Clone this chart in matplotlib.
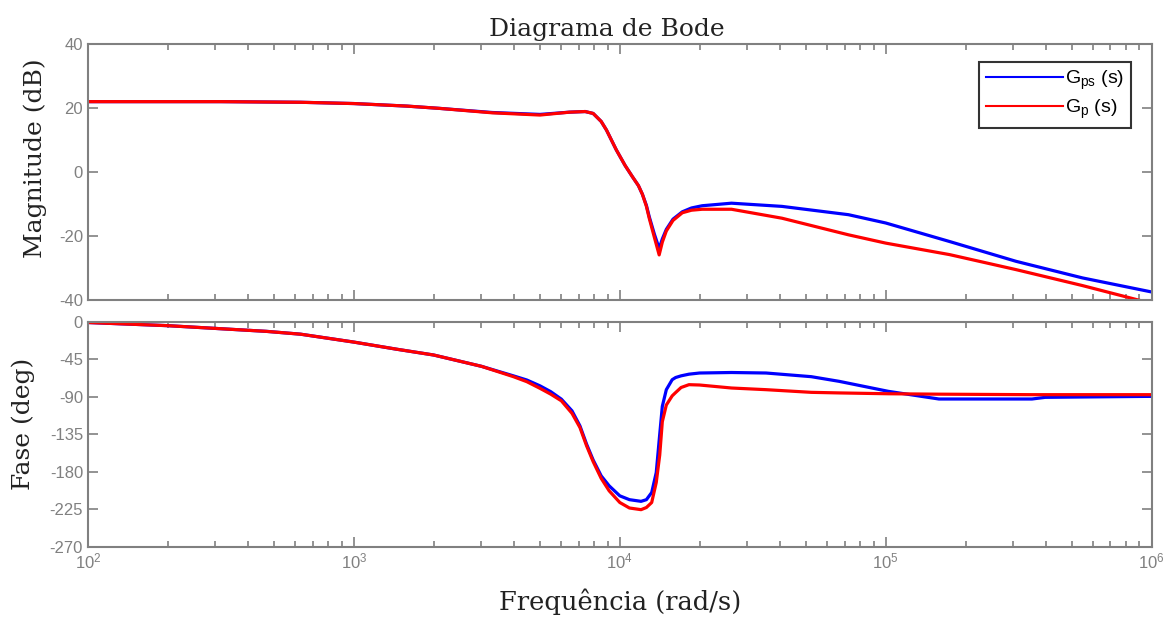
import numpy as np
import matplotlib
matplotlib.use('Agg')
from matplotlib import pyplot as plt
from matplotlib.ticker import LogLocator, NullFormatter

# Magnitude data (rad/s, dB)
w_mag = [100, 316, 630, 1000, 1585, 2090, 3310, 5010, 6460, 7410, 7940, 8510,
         8910, 9700, 10470, 11150, 11750, 12160, 12590, 12900, 13490, 14060,
         14450, 14960, 15850, 17180, 18600, 20400, 26300, 40700, 72400, 100000,
         173800, 309000, 549500, 1000000]
mag_ps = [22, 22, 21.8, 21.4, 20.6, 19.9, 18.6, 18.0, 18.7, 18.9, 18.3, 15.8,
          13.1, 6.9, 2.0, -1.5, -4.3, -7.0, -10.5, -14.0, -19.5, -24.0,
          -21.0, -18.0, -14.8, -12.5, -11.3, -10.6, -9.8, -10.8, -13.4, -16.0,
          -21.8, -28.0, -33.2, -37.6]
mag_p = [22, 22, 21.8, 21.4, 20.6, 19.9, 18.5, 17.8, 18.7, 18.9, 18.3, 15.8,
         13.1, 6.9, 2.0, -1.5, -4.3, -7.0, -10.8, -14.5, -20.5, -26.0,
         -22.0, -18.5, -15.2, -12.8, -12.0, -11.7, -11.7, -14.5, -19.7, -22.3,
         -25.9, -30.6, -35.6, -41.2]

# Phase data (rad/s, deg)
w_ph = [100, 200, 468, 630, 1000, 1445, 1995, 3020, 3980, 4470, 5010, 5500,
        6030, 6610, 7080, 7500, 7940, 8510, 9120, 10000, 10870, 12020, 12590,
        13180, 13710, 14130, 14450, 14960, 15740, 16220, 17000, 18200, 19950,
        26300, 35480, 52480, 66830, 102300, 158500, 354800, 398100, 1000000]
ph_ps = [-1, -4.8, -11.6, -15.0, -24.5, -33.0, -40.0, -53.6, -65.0, -70.0, -77.0, -84.0,
         -93.0, -107.0, -125.0, -147.0, -166.0, -185.0, -197.0, -209.0, -213.6, -215.6, -213.6,
         -205.0, -181.0, -135.0, -101.6, -81.6, -69.6, -67.0, -65.0, -63.0, -61.6,
         -61.0, -61.6, -66.0, -71.6, -83.6, -92.8, -92.8, -90.8, -89.6]
ph_p = [-1, -4.8, -11.6, -15.0, -24.5, -33.0, -40.0, -53.6, -66.0, -72.0, -80.0, -87.0,
        -95.0, -110.0, -127.0, -149.0, -168.0, -188.0, -203.0, -217.0, -223.6, -225.6, -223.0,
        -217.0, -193.0, -160.0, -120.0, -100.0, -89.0, -85.0, -79.0, -75.6, -76.0,
        -79.6, -81.6, -84.8, -85.5, -86.5, -87.0, -87.6, -87.6, -87.6]

plt.rcParams['mathtext.fontset'] = 'custom'
plt.rcParams['mathtext.rm'] = 'Liberation Sans'
plt.rcParams['mathtext.it'] = 'Liberation Sans:italic'
plt.rcParams['font.family'] = 'Liberation Sans'
plt.rcParams['axes.unicode_minus'] = False

grey = '#808080'
fig = plt.figure(figsize=(11.7, 6.21), dpi=100)
ax1 = fig.add_axes([0.0752, 0.5175, 0.9091, 0.4114])
ax2 = fig.add_axes([0.0752, 0.1197, 0.9091, 0.3623])

ax1.plot(w_mag, mag_ps, color='#0000ff', lw=2.3, label=r'G$_{\mathrm{ps}}$ (s)')
ax1.plot(w_mag, mag_p, color='#ff0000', lw=2.3, label=r'G$_{\mathrm{p}}$ (s)')
ax2.plot(w_ph, ph_ps, color='#0000ff', lw=2.3)
ax2.plot(w_ph, ph_p, color='#ff0000', lw=2.3)

for ax in (ax1, ax2):
    ax.set_xscale('log')
    ax.set_xlim(1e2, 1e6)
    ax.xaxis.set_major_locator(LogLocator(base=10, numticks=10))
    ax.xaxis.set_minor_locator(LogLocator(base=10, subs=np.arange(2, 10), numticks=20))
    ax.xaxis.set_minor_formatter(NullFormatter())
    ax.tick_params(which='both', direction='in', top=True, right=True,
                   colors=grey, labelcolor=grey, labelsize=12)
    ax.tick_params(which='major', length=7, width=1.2)
    ax.tick_params(which='minor', length=4, width=1.2)
    for s in ax.spines.values():
        s.set_color(grey)
        s.set_linewidth(1.5)

ax1.set_ylim(-40, 40)
ax1.set_yticks([-40, -20, 0, 20, 40])
ax1.tick_params(labelbottom=False)
ax2.set_ylim(-270, 0)
ax2.set_yticks([0, -45, -90, -135, -180, -225, -270])

serif = {'family': 'DejaVu Serif', 'color': '#222222'}
ax1.set_title('Diagrama de Bode', fontdict=serif, fontsize=18, pad=6, x=0.488)
ax1.set_ylabel('Magnitude (dB)', fontdict=serif, fontsize=18)
ax1.yaxis.set_label_coords(-0.039, 0.555)
ax2.set_ylabel('Fase (deg)', fontdict=serif, fontsize=18)
ax2.yaxis.set_label_coords(-0.05, 0.547)
ax2.set_xlabel('Frequência (rad/s)', fontdict=serif, fontsize=18.5, labelpad=12)

leg = ax1.legend(loc='upper right', bbox_to_anchor=(0.981, 0.93), fontsize=14,
                 fancybox=False, framealpha=1, edgecolor='#333333',
                 handlelength=4.0, handletextpad=0.1, borderpad=0.35,
                 labelspacing=0.3, borderaxespad=0)
leg.get_frame().set_linewidth(1.5)
for line in leg.get_lines():
    line.set_linewidth(1.5)

fig.savefig('out.png', dpi=100)
